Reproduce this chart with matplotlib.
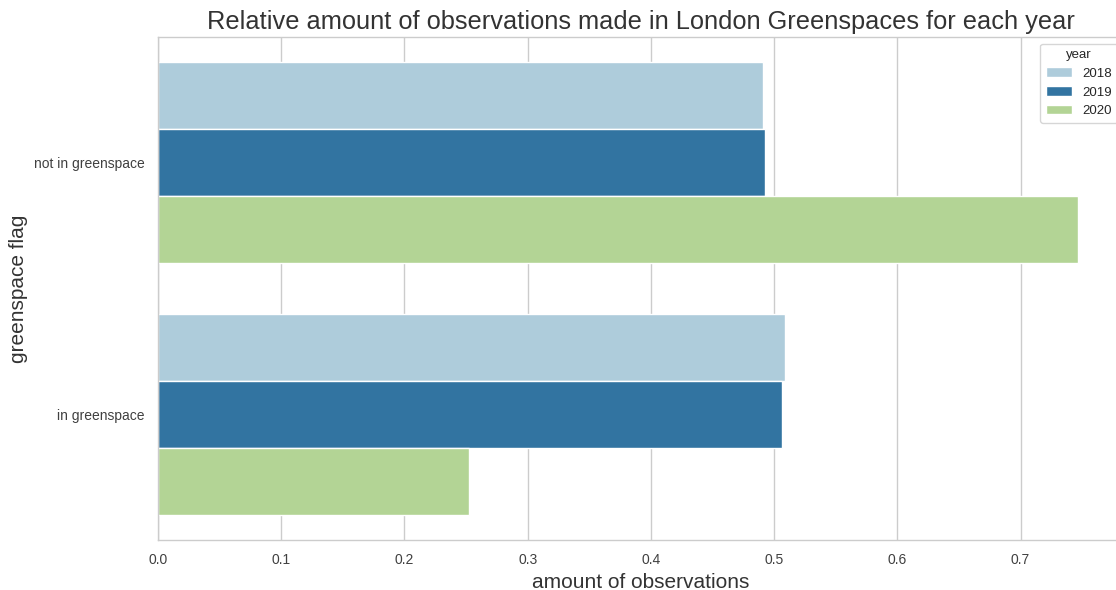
import numpy as np
import pandas as pd
import matplotlib
matplotlib.use('Agg')
import matplotlib.pyplot as plt
import seaborn as sns

# значения
flags = ['not in greenspace', 'in greenspace']
years = ['2018', '2019', '2020']
share_2018 = [0.4911, 0.5089]
share_2019 = [0.4930, 0.5066]
share_2020 = [0.7468, 0.2520]

rows = []
for yr, vals in zip(years, [share_2018, share_2019, share_2020]):
    for fl, v in zip(flags, vals):
        rows.append({'greenspace flag': fl, 'year': yr, 'share': v})
df = pd.DataFrame(rows)

sns.set_theme(style='whitegrid')
plt.rcParams['font.family'] = ['Arial', 'Liberation Sans', 'DejaVu Sans']
plt.rcParams['axes.linewidth'] = 1.0

fig = plt.figure(figsize=(11.16, 5.9), dpi=100)
ax = fig.add_axes([158/1116, 50/590, (1124-158)/1116, (540-37)/590])

sns.barplot(data=df, y='greenspace flag', x='share', hue='year',
            palette='Paired', orient='h', ax=ax, errorbar=None)

ax.set_xlim(0, 0.784)
ax.set_title('Relative amount of observations made in London Greenspaces for each year',
             fontsize=18.3, color='.2')
ax.set_xlabel('amount of observations', fontsize=15, color='.2')
ax.set_ylabel('greenspace flag', fontsize=15, color='.2')
ax.tick_params(axis='both', labelsize=10, labelcolor='.25')
ax.grid(axis='y', visible=False)
leg = ax.legend(title='year', loc='upper right', fontsize=9.5, title_fontsize=9.5)

fig.savefig('out.png', dpi=100)
